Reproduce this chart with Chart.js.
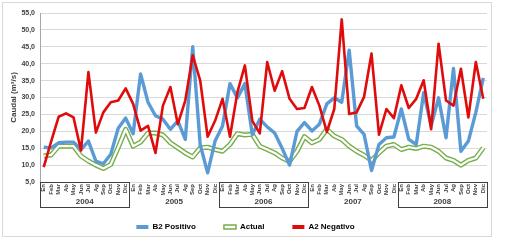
<!DOCTYPE html>
<html>
<head>
<meta charset="utf-8">
<script src="https://cdn.jsdelivr.net/npm/chart.js@4"></script>
<style>
  html, body { margin: 0; padding: 0; background: #fff; }
</style>
</head>
<body>
<canvas id="myChart" width="509" height="245"></canvas>
<script>
"use strict";
const months = ["En", "Feb", "Mar", "Ab", "May", "Jun", "Jul", "Ag", "Sep", "Oct", "Nov", "Dic"];
const years = ["2004", "2005", "2006", "2007", "2008"];
const boxedYears = ["2004", "2006", "2008"];

const b2Positivo = [
  15.3, 15.1, 16.6, 16.8, 16.8, 14.6, 17.1, 11.2, 10.4, 13.2, 20.9, 23.9,
  19.3, 37.0, 28.6, 24.6, 23.6, 20.6, 23.1, 17.6, 45.0, 16.1, 7.7, 17.1,
  21.6, 34.1, 29.9, 34.1, 19.0, 23.6, 21.3, 19.5, 15.0, 10.0, 20.0, 22.6,
  20.1, 22.1, 28.1, 29.9, 28.6, 44.0, 21.6, 19.1, 8.4, 16.1, 18.1, 18.3,
  26.6, 17.6, 16.1, 31.4, 21.6, 29.9, 18.1, 38.6, 14.1, 17.1, 25.6, 35.8,
];
const actual = [
  12.7, 13.0, 15.6, 15.6, 15.6, 12.7, 11.2, 10.0, 9.0, 10.2, 15.2, 20.6,
  15.6, 16.8, 19.5, 19.5, 18.9, 16.6, 15.1, 13.6, 12.4, 15.1, 15.3, 14.6,
  14.1, 16.1, 19.3, 18.9, 19.1, 15.6, 14.6, 13.6, 12.1, 11.1, 14.1, 18.4,
  16.6, 17.6, 20.6, 18.6, 17.6, 15.6, 14.1, 12.9, 11.4, 13.6, 15.6, 16.1,
  14.6, 15.3, 14.9, 15.6, 15.3, 14.1, 12.1, 11.4, 10.0, 11.4, 12.1, 15.1,
];
const a2Negativo = [
  9.4, 17.0, 24.3, 25.3, 24.1, 14.3, 37.5, 19.6, 25.6, 28.6, 29.1, 32.7,
  28.1, 20.2, 21.6, 13.6, 27.6, 33.1, 22.1, 29.1, 42.5, 35.1, 18.4, 23.1,
  29.6, 18.4, 31.6, 39.5, 23.1, 19.4, 40.5, 32.0, 37.8, 29.6, 26.6, 26.9,
  33.1, 27.6, 19.8, 26.6, 53.1, 25.1, 25.6, 30.2, 43.0, 19.0, 26.6, 23.9,
  33.6, 26.9, 29.6, 35.1, 20.6, 45.9, 29.1, 27.6, 38.5, 24.1, 40.5, 29.6,
];
const yMin = 5, yMax = 55, yStep = 5;

const blue = "#5b9bd5";
const green = "#77ad4c";
const red = "#e00b0b";
const textColor = "#404040";

let labels = [];
years.forEach(function () {
  months.forEach(function (m) { labels.push(m); });
});

// frame + year rows under the month labels
const yearRow = {
  id: "yearRow",
  beforeDraw(chart) {
    const c = chart.ctx;
    c.save();
    c.strokeStyle = "#d9d9d9";
    c.lineWidth = 1;
    c.strokeRect(2.5, 2.5, 489, 234);
    c.restore();
  },
  afterDraw(chart) {
    const c = chart.ctx;
    const x = chart.scales.x;
    const top = chart.chartArea.bottom + 0.5;
    c.save();
    c.font = "bold 8px 'Liberation Sans'";
    c.fillStyle = textColor;
    c.textAlign = "center";
    c.textBaseline = "middle";
    c.strokeStyle = "#404040";
    c.lineWidth = 1;
    years.forEach(function (yr, i) {
      const x0 = x.getPixelForValue(i * 12 - 0.5);
      const x1 = x.getPixelForValue(i * 12 + 11.5);
      if (boxedYears.includes(yr)) {
        c.strokeRect(Math.round(x0) + 0.5, top, Math.round(x1 - x0), 25);
      }
      c.fillText(yr, (x0 + x1) / 2, top + 19);
    });
    c.restore();
  },
};

const ctx = document.getElementById("myChart").getContext("2d");
const myChart = new Chart(ctx, {
  type: "line",
  data: {
    labels: labels,
    datasets: [
      { label: "B2 Positivo", data: b2Positivo, borderColor: blue, borderWidth: 3.4, order: 1 },
      { label: "Actual", data: actual, borderColor: green, borderWidth: 5, order: 3 },
      { label: "Actual-inner", data: actual, borderColor: "#ffffff", borderWidth: 2.2, order: 2 },
      { label: "A2 Negativo", data: a2Negativo, borderColor: red, borderWidth: 2.6, order: 0 },
    ],
  },
  options: {
    responsive: false,
    animation: false,
    devicePixelRatio: 1,
    layout: { padding: { left: 4, right: 22, top: 13, bottom: 4 } },
    elements: {
      point: { radius: 0 },
      line: { tension: 0, borderJoinStyle: "round", fill: false },
    },
    plugins: {
      tooltip: { enabled: false },
      legend: {
        position: "bottom",
        labels: {
          boxWidth: 12,
          boxHeight: 4,
          padding: 28,
          color: textColor,
          font: { family: "'Liberation Sans'", size: 8, weight: "bold" },
          generateLabels: function () {
            return [
              { text: "B2 Positivo", fillStyle: blue, strokeStyle: blue, lineWidth: 0, datasetIndex: 0 },
              { text: "Actual", fillStyle: "#ffffff", strokeStyle: green, lineWidth: 1.5, datasetIndex: 1 },
              { text: "A2 Negativo", fillStyle: red, strokeStyle: red, lineWidth: 0, datasetIndex: 3 },
            ];
          },
        },
      },
    },
    scales: {
      x: {
        offset: true,
        grid: { display: false, drawTicks: false },
        border: { display: false },
        ticks: {
          autoSkip: false,
          minRotation: 90,
          maxRotation: 90,
          padding: 2,
          color: textColor,
          font: { family: "'Liberation Sans'", size: 6, weight: "bold" },
        },
        afterFit: function (scale) { scale.height = 13; },
      },
      y: {
        min: yMin,
        max: yMax,
        grid: { color: "#d9d9d9", drawTicks: false },
        border: { color: "#a6a6a6" },
        ticks: {
          stepSize: yStep,
          padding: 5,
          color: textColor,
          font: { family: "'Liberation Sans'", size: 7, weight: "bold" },
          callback: function (val) { return val.toFixed(1).replace(".", ","); },
        },
        title: {
          display: true,
          text: "Caudal (m³/s)",
          color: textColor,
          font: { family: "'Liberation Sans'", size: 8, weight: "bold" },
          padding: { top: 5, bottom: 0 },
        },
        afterFit: function (scale) { scale.width = 36; },
      },
    },
  },
  plugins: [yearRow],
});
</script>
</body>
</html>
